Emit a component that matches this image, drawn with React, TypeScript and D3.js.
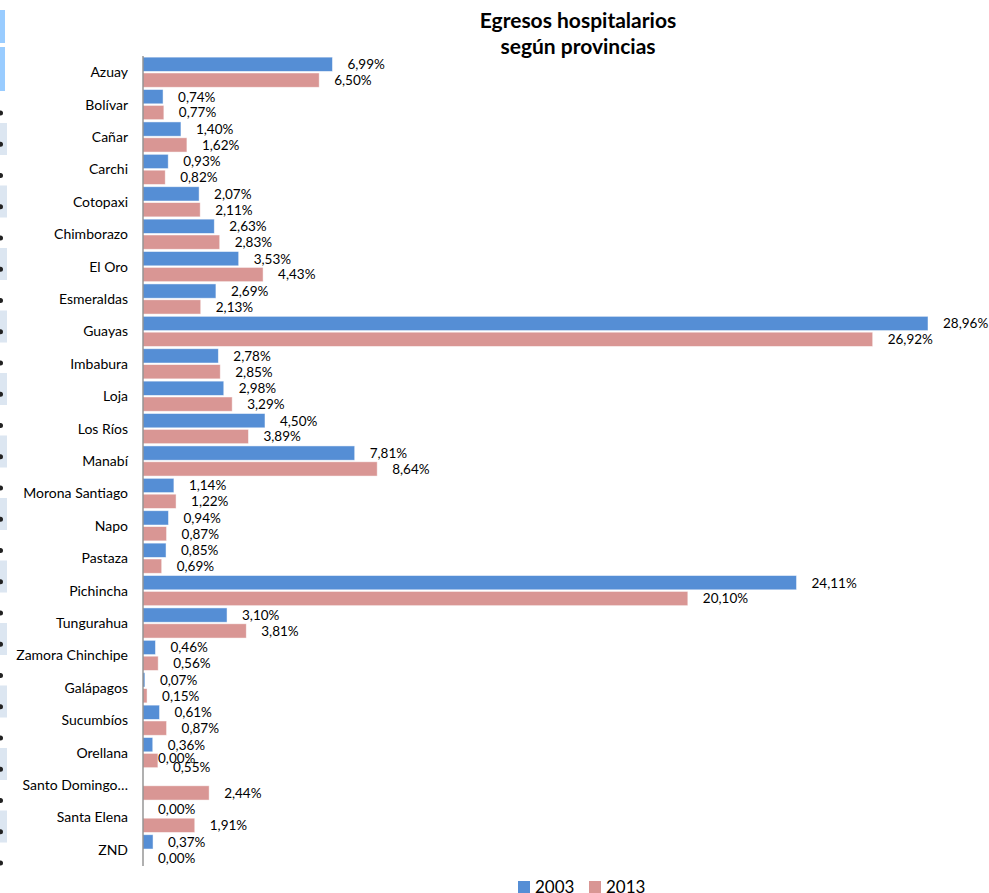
import * as d3 from "d3"

const provinces = [
  "Azuay", "Bolívar", "Cañar", "Carchi", "Cotopaxi", "Chimborazo", "El Oro",
  "Esmeraldas", "Guayas", "Imbabura", "Loja", "Los Ríos", "Manabí",
  "Morona Santiago", "Napo", "Pastaza", "Pichincha", "Tungurahua",
  "Zamora Chinchipe", "Galápagos", "Sucumbíos", "Orellana", "Santo Domingo…",
  "Santa Elena", "ZND",
]
const values2003 = [
  6.99, 0.74, 1.4, 0.93, 2.07, 2.63, 3.53, 2.69, 28.96, 2.78, 2.98, 4.5, 7.81,
  1.14, 0.94, 0.85, 24.11, 3.1, 0.46, 0.07, 0.61, 0.36, 0.0, 0.0, 0.37,
]
const values2013 = [
  6.5, 0.77, 1.62, 0.82, 2.11, 2.83, 4.43, 2.13, 26.92, 2.85, 3.29, 3.89, 8.64,
  1.22, 0.87, 0.69, 20.1, 3.81, 0.56, 0.15, 0.87, 0.55, 2.44, 1.91, 0.0,
]
const seriesNames = ["2003", "2013"]
const seriesColors = ["#558ed5", "#d99694"]

const W = 989
const H = 893
const font = "Lato, 'Open Sans', sans-serif"

// excel nudged these labels around the empty Santo Domingo bar
const labelShift: Record<string, number> = {
  "Santo Domingo…|2003": -19,
  "Orellana|2013": 7,
}

const fmt = (v: number) => d3.format(".2f")(v).replace(".", ",") + "%"

const App = () => {
  const x = d3.scaleLinear().domain([0, 28.96]).range([143, 928])
  const y = d3
    .scaleBand<string>()
    .domain(provinces)
    .range([56, 866])
    .paddingInner(0.07)
    .paddingOuter(0.035)
  const ySeries = d3
    .scaleBand<string>()
    .domain(seriesNames)
    .range([0, y.bandwidth()])
    .paddingInner(0.1)

  const rows = provinces.flatMap((p, i) =>
    [values2003[i], values2013[i]].map((v, s) => ({
      province: p,
      series: seriesNames[s],
      color: seriesColors[s],
      value: v,
    })),
  )

  // left edge strip (spreadsheet cells cut off in the screenshot)
  const stripRects = d3.range(12).map((k) => 123 + k * 62.5)
  const stripDots = d3.range(25).map((k) => 113 + k * 31.25)

  return (
    <svg
      width={W}
      height={H}
      style={{position: "absolute", left: 0, top: 0, background: "#fff"}}
      fontFamily={font}
    >
      <rect x={0} y={10} width={5} height={33} fill="#99ccff" />
      <rect x={0} y={47} width={5} height={44} fill="#99ccff" />
      {stripRects.map((sy) => (
        <rect key={sy} x={0} y={sy} width={7} height={32} fill="#dce6f1" />
      ))}
      {stripDots.map((sy) => (
        <circle key={sy} cx={0.5} cy={sy} r={2.5} fill="#222" />
      ))}

      <text x={578} y={28} textAnchor="middle" fontSize={21} fontWeight="bold" fill="#000">
        Egresos hospitalarios
      </text>
      <text x={578} y={54} textAnchor="middle" fontSize={21} fontWeight="bold" fill="#000">
        según provincias
      </text>

      {rows.map((r) => {
        const by = (y(r.province) ?? 0) + (ySeries(r.series) ?? 0)
        const bh = ySeries.bandwidth()
        const shift = labelShift[r.province + "|" + r.series] ?? 0
        return (
          <g key={r.province + r.series}>
            {r.value > 0 && (
              <rect
                x={x(0)}
                y={by}
                width={x(r.value) - x(0)}
                height={bh}
                fill={r.color}
                stroke="#fff"
                strokeOpacity={0.6}
                strokeWidth={0.8}
              />
            )}
            <text
              x={x(r.value) + 15}
              y={by + bh / 2 + shift}
              dy="0.36em"
              fontSize={13.5}
              fill="#000"
            >
              {fmt(r.value)}
            </text>
          </g>
        )
      })}

      <line x1={x(0)} x2={x(0)} y1={56} y2={866} stroke="#868686" strokeWidth={1.3} />

      {provinces.map((p) => (
        <text
          key={p}
          x={128}
          y={(y(p) ?? 0) + y.bandwidth() / 2}
          dy="0.36em"
          textAnchor="end"
          fontSize={14}
          fill="#000"
        >
          {p}
        </text>
      ))}

      {seriesNames.map((s, i) => (
        <g key={s} transform={`translate(${518 + i * 71},0)`}>
          <rect x={0} y={881} width={12} height={12} fill={seriesColors[i]} />
          <text x={17} y={893} fontSize={17} fill="#000">
            {s}
          </text>
        </g>
      ))}
    </svg>
  )
}

export default App
